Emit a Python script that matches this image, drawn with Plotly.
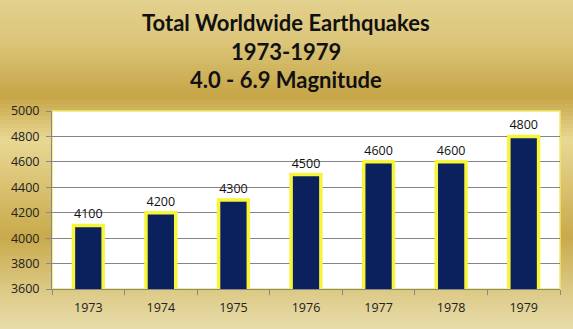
import plotly.graph_objects as go

years = ["1973", "1974", "1975", "1976", "1977", "1978", "1979"]
quakes = [4100, 4200, 4300, 4500, 4600, 4600, 4800]
title_lines = ["Total Worldwide Earthquakes", "1973-1979", "4.0 - 6.9 Magnitude"]

W, H = 573, 329
ML, MR, MT, MB = 52, 13, 111, 40
PW, PH = W - ML - MR, H - MT - MB

fig = go.Figure()
fig.add_trace(go.Bar(
    x=years, y=quakes,
    width=0.41,
    marker=dict(color="#0b215e", line=dict(color="#f7f53a", width=3.5)),
    texttemplate="%{y}", textposition="outside",
    textfont=dict(family="Open Sans", size=12.5, color="#111"),
    cliponaxis=True,
))

# background gradient (decorative)
stops = [(0, (226, 208, 142)), (40, (220, 198, 122)), (97, (198, 165, 71)),
         (140, (232, 216, 148)), (185, (218, 194, 113)), (237, (201, 170, 76)),
         (290, (220, 201, 133)), (329, (232, 220, 170))]

def col_at(py):
    for (y0, c0), (y1, c1) in zip(stops[:-1], stops[1:]):
        if y0 <= py <= y1:
            t = (py - y0) / (y1 - y0)
            return "rgb(%d,%d,%d)" % tuple(round(a + (b - a) * t) for a, b in zip(c0, c1))
    return "rgb(%d,%d,%d)" % stops[-1][1]

def px2x(px):
    return (px - ML) / PW

def py2y(py):
    return (H - MB - py) / PH

shapes = []
step = 4
for py in range(0, H, step):
    shapes.append(dict(type="rect", xref="paper", yref="paper", layer="below",
                       x0=px2x(-2), x1=px2x(W + 2), y0=py2y(py + step + 0.5), y1=py2y(py),
                       fillcolor=col_at(py + step / 2), line=dict(width=0)))
shapes.append(dict(type="rect", xref="paper", yref="paper", layer="below",
                   x0=0, x1=1, y0=0, y1=1, fillcolor="white",
                   line=dict(color="#f0ec60", width=1.5)))

annotations = []
for i, (t, py) in enumerate(zip(title_lines, [22, 52, 80])):
    annotations.append(dict(text="<b>%s</b>" % t, xref="paper", yref="paper",
                            x=px2x(W / 2 - 1), y=py2y(py), xanchor="center", yanchor="middle",
                            showarrow=False,
                            font=dict(family="Lato", size=22, color="#111")))

fig.update_layout(
    width=W, height=H,
    margin=dict(l=ML, r=MR, t=MT, b=MB, pad=0),
    paper_bgcolor="rgba(0,0,0,0)", plot_bgcolor="rgba(0,0,0,0)",
    shapes=shapes, annotations=annotations,
    showlegend=False,
    xaxis=dict(type="category", tickson="boundaries", ticks="outside", ticklen=5,
               tickcolor="#888", showline=True, linecolor="#888", linewidth=1,
               showgrid=False, tickfont=dict(family="Open Sans", size=12.5, color="#222"),
               ticklabelstandoff=7),
    yaxis=dict(range=[3600, 5000], dtick=200, tick0=3600, ticks="outside", ticklen=5,
               tickcolor="#888", showline=True, linecolor="#888", linewidth=1,
               gridcolor="#858585", gridwidth=1, zeroline=False, ticklabelstandoff=4,
               tickfont=dict(family="Open Sans", size=12.5, color="#222")),
)

fig.write_html("out.html")
